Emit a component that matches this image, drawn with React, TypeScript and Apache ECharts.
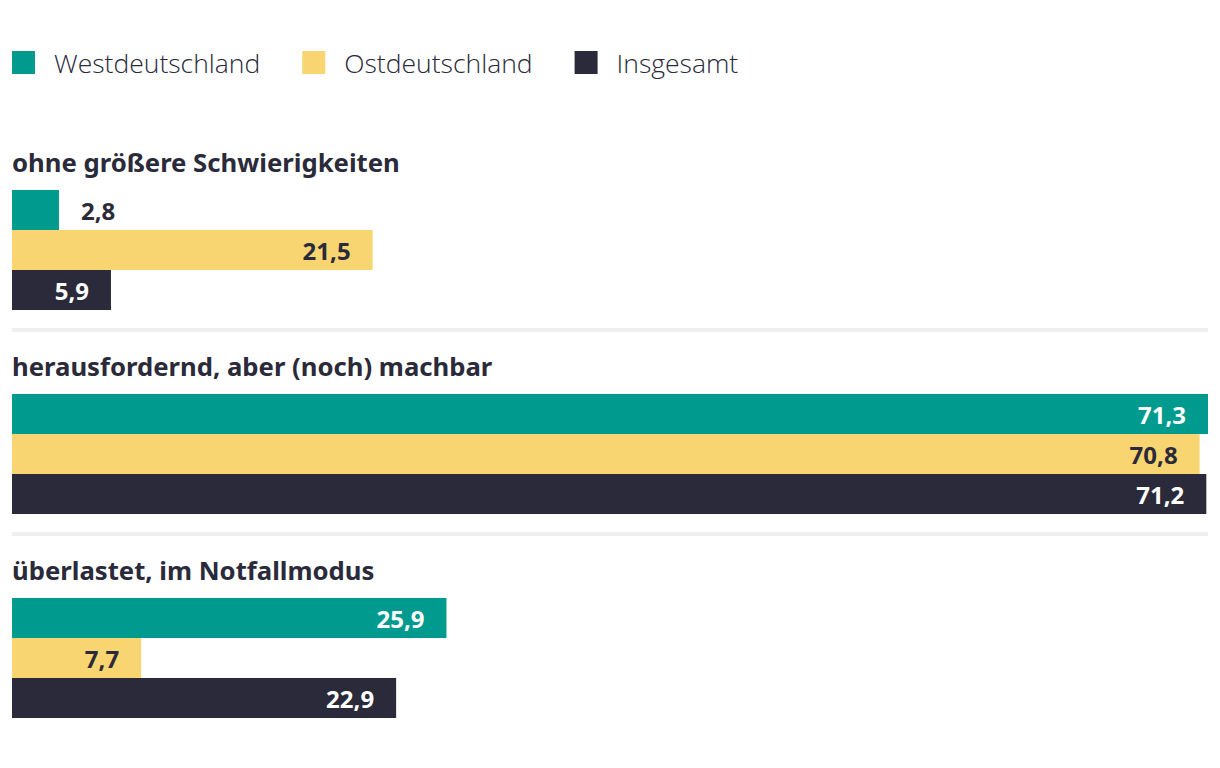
import React, { useEffect, useRef } from "react";
import * as echarts from "echarts";

const categories = [
  "ohne größere Schwierigkeiten",
  "herausfordernd, aber (noch) machbar",
  "überlastet, im Notfallmodus",
];
const seriesNames = ["Westdeutschland", "Ostdeutschland", "Insgesamt"];
const westValues = [2.8, 71.3, 25.9];
const ostValues = [21.5, 70.8, 7.7];
const totalValues = [5.9, 71.2, 22.9];

const COLORS = ["#009a8e", "#f8d571", "#2a2a3a"];
const LABEL_COLORS = ["#ffffff", "#2a2a3a", "#ffffff"];
const DARK = "#2a2a3a";
const FONT = "'Noto Sans', sans-serif";
const LEGEND_FONT = "'Open Sans', sans-serif";

export default function App() {
  const ref = useRef<HTMLDivElement>(null);

  useEffect(() => {
    if (!ref.current) return;
    const chart = echarts.init(ref.current, null, { renderer: "svg" });
    const gridTop = 140;
    const gridLeft = 4;
    const gridRight = 4;
    const width = 1204;
    const height = 752;
    const band = (height - gridTop) / categories.length;

    const all = [westValues, ostValues, totalValues];
    const maxVal = Math.max(...all.flat());

    const series = all.map((vals, si) => ({
      name: seriesNames[si],
      type: "bar",
      barWidth: 40,
      barGap: "0%",
      itemStyle: { color: COLORS[si] },
      data: vals.map((v) => {
        const inside = v > 4;
        return {
          value: v,
          label: {
            show: true,
            position: inside ? "insideRight" : "right",
            distance: 22,
            color: inside ? LABEL_COLORS[si] : DARK,
            fontFamily: FONT,
            fontWeight: "bold",
            fontSize: 24,
            formatter: (p: any) => String(p.value.toFixed(1)).replace(".", ","),
          },
        };
      }),
    }));

    const separators = [1, 2].map((i) => ({
      type: "rect",
      shape: { x: gridLeft, y: gridTop + band * i - 24, width: width - gridLeft - gridRight, height: 4 },
      style: { fill: "#efefef" },
      silent: true,
    }));

    chart.setOption({
      animation: false,
      textStyle: { fontFamily: FONT },
      legend: {
        left: 4,
        top: 41,
        padding: 0,
        itemWidth: 23,
        itemHeight: 23,
        itemGap: 42,
        icon: "rect",
        data: seriesNames,
        textStyle: {
          fontFamily: LEGEND_FONT,
          fontSize: 26.5,
          fontWeight: 300,
          color: DARK,
          padding: [0, 0, 0, 14],
        },
        selectedMode: false,
      },
      grid: { left: gridLeft, right: gridRight, top: gridTop, bottom: 0, containLabel: false },
      xAxis: {
        type: "value",
        min: 0,
        max: maxVal,
        show: false,
      },
      yAxis: {
        type: "category",
        inverse: true,
        data: categories,
        axisLine: { show: false },
        axisTick: { show: false },
        splitLine: { show: false },
        axisLabel: {
          inside: true,
          interval: 0,
          margin: 0,
          align: "left",
          verticalAlign: "bottom",
          lineHeight: 176,
          fontFamily: FONT,
          fontSize: 25.7,
          fontWeight: "bold",
          color: DARK,
        },
        z: 5,
      },
      graphic: separators,
      series,
    });
    return () => chart.dispose();
  }, []);

  return <div ref={ref} style={{ width: 1204, height: 752 }} />;
}
